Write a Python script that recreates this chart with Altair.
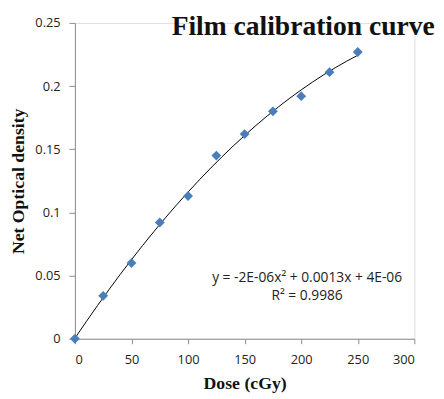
import altair as alt
import pandas as pd

dose = [0, 25, 50, 75, 100, 125, 150, 175, 200, 225, 250]
net_od = [0.0, 0.034, 0.060, 0.092, 0.113, 0.145, 0.162, 0.180, 0.192, 0.211, 0.227]
title_text = ["Film calibration curve"]
eq_lines = ["y = -2E-06x\u00b2 + 0.0013x + 4E-06", "R\u00b2 = 0.9986"]
x_ticks = [0, 50, 100, 150, 200, 250, 300]
y_ticks = [0, 0.05, 0.1, 0.15, 0.2, 0.25]

df = pd.DataFrame({"dose": dose, "od": net_od})

W, H = 345, 321
SERIF = "Liberation Serif"
SANS = "Open Sans"

xscale = alt.Scale(domain=[0, 300], nice=False)
yscale = alt.Scale(domain=[0, 0.25], nice=False)

xaxis = alt.Axis(
    values=x_ticks, grid=False, domainColor="#8c8c8c", tickColor="#8c8c8c",
    tickSize=5, labelPadding=10, labelFont=SANS, labelFontSize=13, labelColor="#222",
    title="Dose (cGy)", titleFont=SERIF, titleFontSize=18, titleFontWeight="bold",
    titleColor="#111", titleX=W / 2, titleY=46, titleBaseline="middle", titleAlign="center",
)
yaxis = alt.Axis(
    values=y_ticks, format="~g", grid=False, domainColor="#8c8c8c", tickColor="#8c8c8c",
    tickSize=6, labelPadding=9, labelFont=SANS, labelFontSize=13, labelColor="#222",
    title="Net Optical density", titleFont=SERIF, titleFontSize=18, titleFontWeight="bold",
    titleColor="#111", titleX=-57, titleY=H / 2, titleAngle=270, titleBaseline="middle",
    titleAlign="center",
)

base = alt.Chart(df)

trend = base.transform_regression(
    "dose", "od", method="poly", order=2, extent=[0, 250]
).mark_line(color="black", strokeWidth=1).encode(
    x=alt.X("dose:Q", scale=xscale, axis=xaxis),
    y=alt.Y("od:Q", scale=yscale, axis=yaxis),
)

points = base.mark_point(shape="diamond", filled=True, size=100, color="#4A7EBB", opacity=1).encode(
    x=alt.X("dose:Q", scale=xscale),
    y=alt.Y("od:Q", scale=yscale),
)

title = alt.Chart(pd.DataFrame({"t": title_text})).mark_text(
    font=SERIF, fontSize=28, fontWeight="bold", color="#111", align="center", baseline="alphabetic"
).encode(text="t:N", x=alt.value(232), y=alt.value(12))

eq1 = alt.Chart(pd.DataFrame({"t": [eq_lines[0]]})).mark_text(
    font=SANS, fontSize=14, color="#222", align="center", baseline="middle"
).encode(text="t:N", x=alt.value(236), y=alt.value(259))
eq2 = alt.Chart(pd.DataFrame({"t": [eq_lines[1]]})).mark_text(
    font=SANS, fontSize=14, color="#222", align="center", baseline="middle"
).encode(text="t:N", x=alt.value(236), y=alt.value(278))

chart = alt.layer(trend, points, title, eq1, eq2).properties(
    width=W, height=H,
    autosize=alt.AutoSizeParams(type="none"),
    padding={"left": 68, "top": 12, "right": 22, "bottom": 55},
).configure_view(stroke=None).configure(background="white")

chart.save("out.html", embed_options={"renderer": "svg", "actions": False})
